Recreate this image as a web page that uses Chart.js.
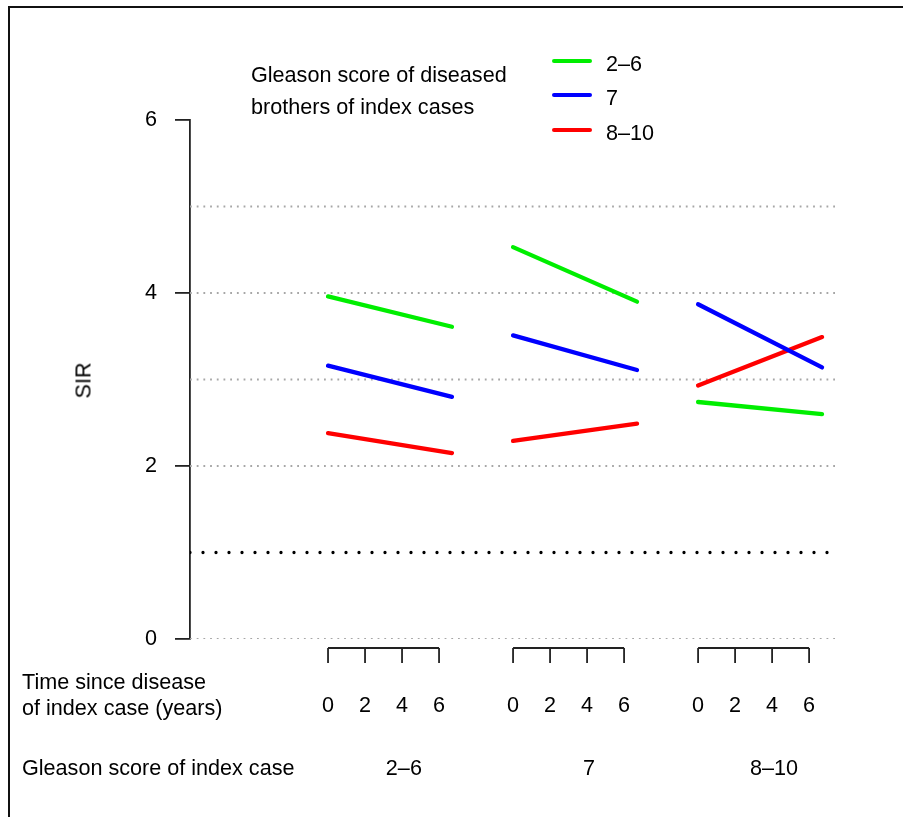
<!DOCTYPE html>
<html>
<head>
<meta charset="utf-8">
<title>SIR by Gleason score</title>
<script src="https://cdn.jsdelivr.net/npm/chart.js@4.4.1/dist/chart.umd.min.js"></script>
<style>
  body { margin: 0; background: #fff; }
  #wrap {
    position: relative; width: 903px; height: 817px; overflow: hidden;
    font-family: "Liberation Sans", Arial, Helvetica, sans-serif; color: #000;
  }
  #frame {
    position: absolute; left: 8px; top: 6px; width: 1000px; height: 1000px;
    border-top: 2px solid #111; border-left: 2px solid #111;
  }
  canvas { position: absolute; left: 0; top: 0; }
  .lbl { position: absolute; font-size: 21.6px; line-height: 21px; white-space: nowrap; }
  .key { position: absolute; left: 552px; width: 40px; height: 4px; border-radius: 2px; }
</style>
</head>
<body>
<div id="wrap">
  <div id="frame"></div>
  <canvas id="sirChart" width="903" height="817"></canvas>

  <div class="lbl" style="left:251px; top:64px;">Gleason score of diseased</div>
  <div class="lbl" style="left:251px; top:96px;">brothers of index cases</div>
  <div id="legend"></div>

  <div class="lbl" style="left:65px; top:370px; transform:rotate(-90deg); transform-origin:center;">SIR</div>

  <div class="lbl" style="left:22px; top:671px;">Time since disease</div>
  <div class="lbl" style="left:22px; top:697px;">of index case (years)</div>
  <div class="lbl" style="left:22px; top:757px;">Gleason score of index case</div>
  <div id="groupLabels"></div>
</div>

<script>
// Gleason score of the index case (one group of lines per score)
const indexGleason = ["2–6", "7", "8–10"];
const groupOffsets = [0, 10, 20];        // where each group starts on the time axis
const timeTicks = [0, 2, 4, 6];          // tick labels under each group
const timeYears = [0, 6.7];              // start and end of every line

// Gleason score of the diseased brothers (one line per score and group)
const brotherGleason = ["2–6", "7", "8–10"];
const brotherColors = ["#00ee00", "#0000ff", "#ff0000"];

// SIR at start and end of each line, grouped by index case score
const sirBrother26 = [3.96, 3.61, 4.53, 3.90, 2.74, 2.60];
const sirBrother7 = [3.16, 2.80, 3.51, 3.11, 3.87, 3.14];
const sirBrother810 = [2.38, 2.15, 2.29, 2.49, 2.93, 3.49];
const sirSeries = [sirBrother26, sirBrother7, sirBrother810];

// Reference lines
const gridLevels = [0, 2, 3, 4, 5];
const referenceLevel = 1;
const yTicks = [0, 2, 4, 6];

const X_MIN = -7.46;
const X_MAX = 27.4;

const tickFont = { family: "Liberation Sans, Arial, sans-serif", size: 21.6, lineHeight: 1 };

// Build one dataset per brother score, with a gap between index groups
function buildPoints(values) {
    const pts = [];
    groupOffsets.forEach((off, g) => {
        timeYears.forEach((t, i) => {
            pts.push({ x: off + t, y: values[g * 2 + i] });
        });
        pts.push({ x: off + 8, y: null });
    });
    return pts;
}

const seriesDatasets = brotherGleason.map((name, i) => ({
    label: name,
    data: buildPoints(sirSeries[i]),
    borderColor: brotherColors[i],
    borderWidth: 4.3,
    borderCapStyle: "round",
    pointRadius: 0,
    spanGaps: false,
    tension: 0,
    order: 1
}));

const gridDatasets = gridLevels.map(level => ({
    label: "grid " + level,
    data: [{ x: X_MIN, y: level }, { x: X_MAX, y: level }],
    borderColor: "#a6a6a6",
    borderWidth: 1.8,
    borderDash: [1.8, 4.9],
    pointRadius: 0,
    order: 10
}));

const referenceDataset = {
    label: "SIR = 1",
    data: [{ x: X_MIN, y: referenceLevel }, { x: X_MAX, y: referenceLevel }],
    borderColor: "#000",
    borderWidth: 3.3,
    borderCapStyle: "round",
    borderDash: [0, 13],
    pointRadius: 0,
    order: 9
};

// Bracket-style time axis under each group
const bracketPlugin = {
    id: "brackets",
    afterDraw(chart) {
        const { ctx, chartArea, scales } = chart;
        const y = chartArea.bottom + 9;
        ctx.save();
        ctx.strokeStyle = "#222";
        ctx.lineWidth = 1.8;
        groupOffsets.forEach(off => {
            const x0 = scales.x.getPixelForValue(off + timeTicks[0]);
            const x1 = scales.x.getPixelForValue(off + timeTicks[timeTicks.length - 1]);
            ctx.beginPath();
            ctx.moveTo(x0, y);
            ctx.lineTo(x1, y);
            timeTicks.forEach(t => {
                const x = scales.x.getPixelForValue(off + t);
                ctx.moveTo(x, y);
                ctx.lineTo(x, y + 15);
            });
            ctx.stroke();
        });
        ctx.restore();
    }
};

const sirChart = new Chart(document.getElementById("sirChart"), {
    type: "line",
    data: { datasets: [...gridDatasets, referenceDataset, ...seriesDatasets] },
    options: {
        responsive: false,
        animation: false,
        layout: { padding: { top: 120, right: 68, bottom: 78, left: 0 } },
        plugins: { legend: { display: false }, tooltip: { enabled: false } },
        scales: {
            x: {
                type: "linear",
                min: X_MIN,
                max: X_MAX,
                grid: { display: false },
                border: { display: false },
                afterBuildTicks: scale => {
                    scale.ticks = groupOffsets.flatMap(off => timeTicks.map(t => ({ value: off + t })));
                },
                afterFit: scale => { scale.height = 100; },
                ticks: {
                    autoSkip: false,
                    maxRotation: 0,
                    padding: 48,
                    color: "#000",
                    font: tickFont,
                    callback: v => v - Math.floor(v / 10) * 10
                }
            },
            y: {
                type: "linear",
                min: 0,
                max: 6,
                afterBuildTicks: scale => {
                    scale.ticks = yTicks.map(v => ({ value: v }));
                },
                afterFit: scale => { scale.width = 190; },
                grid: { drawOnChartArea: false, drawTicks: true, tickLength: 15, color: "#222", lineWidth: 1.8 },
                border: { display: true, color: "#222", width: 1.8 },
                ticks: {
                    padding: 18,
                    color: "#000",
                    font: tickFont
                }
            }
        }
    },
    plugins: [bracketPlugin]
});

// Legend for the brothers' scores
const legend = document.getElementById("legend");
const legendCenters = [61, 95, 130];
brotherGleason.forEach((name, i) => {
    const key = document.createElement("div");
    key.className = "key";
    key.style.top = (legendCenters[i] - 2) + "px";
    key.style.background = brotherColors[i];
    legend.appendChild(key);
    const text = document.createElement("div");
    text.className = "lbl";
    text.style.left = "606px";
    text.style.top = (legendCenters[i] - 8) + "px";
    text.textContent = name;
    legend.appendChild(text);
});

// Index case score under each group
const groupLabels = document.getElementById("groupLabels");
indexGleason.forEach((name, g) => {
    const div = document.createElement("div");
    div.className = "lbl";
    div.style.left = sirChart.scales.x.getPixelForValue(groupOffsets[g] + 4.1) + "px";
    div.style.top = "757px";
    div.style.transform = "translateX(-50%)";
    div.textContent = name;
    groupLabels.appendChild(div);
});
</script>
</body>
</html>
